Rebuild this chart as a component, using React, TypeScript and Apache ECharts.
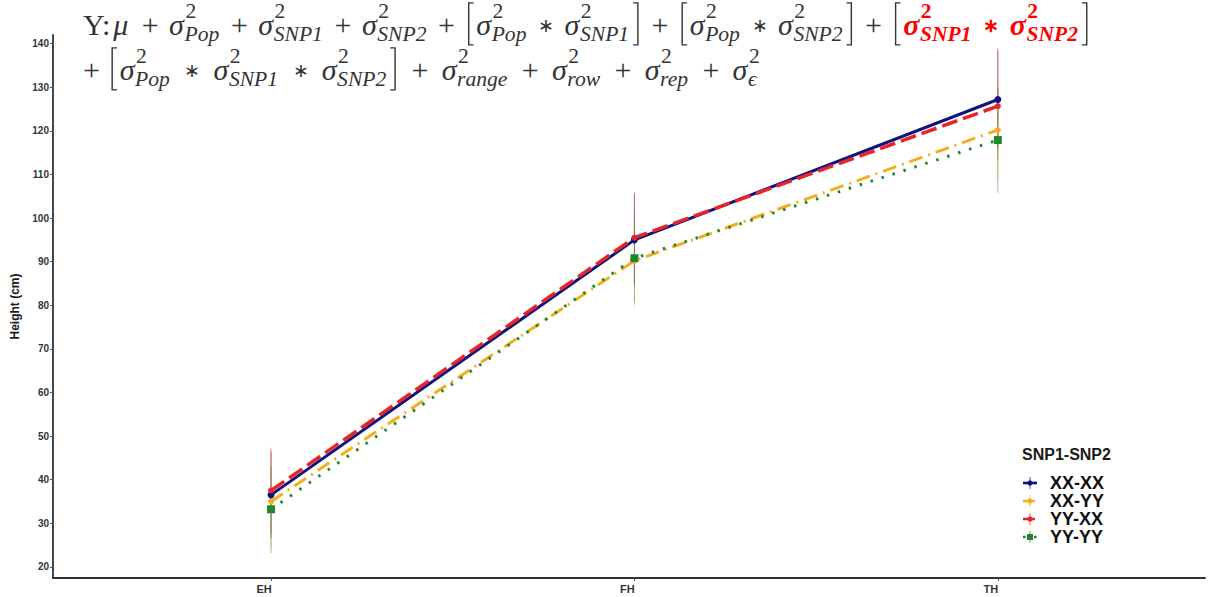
import React, { useEffect, useRef } from "react";
import * as echarts from "echarts";

const categories = ["EH", "FH", "TH"];
const yTicks = [20, 30, 40, 50, 60, 70, 80, 90, 100, 110, 120, 130, 140];
const seriesNames = ["XX-XX", "XX-YY", "YY-XX", "YY-YY"];
const seriesColors = ["#10137F", "#F4AE1F", "#E8242B", "#23862E"];

const meanXXXX = [36.5, 95.0, 127.2];
const meanXXYY = [35.0, 90.2, 120.2];
const meanYYXX = [37.5, 95.5, 125.7];
const meanYYYY = [33.2, 90.8, 117.9];

const lowXXXX = [26.5, 84.5, 116.0];
const highXXXX = [46.5, 105.5, 138.5];
const lowXXYY = [24.0, 79.8, 109.0];
const highXXYY = [46.0, 100.6, 131.5];
const lowYYXX = [27.5, 85.1, 113.5];
const highYYXX = [47.3, 105.9, 139.0];
const lowYYYY = [23.2, 80.5, 105.8];
const highYYYY = [43.0, 101.0, 130.0];

const means = [meanXXXX, meanXXYY, meanYYXX, meanYYYY];
const lows = [lowXXXX, lowXXYY, lowYYXX, lowYYYY];
const highs = [highXXXX, highXXYY, highYYXX, highYYYY];

type Tok =
  | { k: "t"; s: string; it?: boolean; pad?: number }
  | { k: "op"; s: string; red?: boolean }
  | { k: "sig"; sub: string; red?: boolean }
  | { k: "lb" }
  | { k: "rb" };

const SERIF = "Liberation Serif";
const INK = "#333333";
const RED = "#FF0000";

let measureCtx: CanvasRenderingContext2D | null = null;
function tw(text: string, size: number, italic: boolean, bold: boolean): number {
  if (!measureCtx) measureCtx = document.createElement("canvas").getContext("2d");
  if (!measureCtx) return text.length * size * 0.5;
  measureCtx.font = `${italic ? "italic " : ""}${bold ? "bold " : ""}${size}px "${SERIF}"`;
  return measureCtx.measureText(text).width;
}

function textEl(text: string, x: number, baseline: number, size: number, italic: boolean, bold: boolean, fill: string) {
  return {
    type: "text",
    x,
    y: baseline - 0.34 * size,
    silent: true,
    style: {
      text,
      fontFamily: SERIF,
      fontSize: size,
      fontStyle: italic ? "italic" : "normal",
      fontWeight: bold ? "bold" : "normal",
      fill,
      align: "left",
      verticalAlign: "middle",
    },
  };
}

function opSize(s: string, fs: number) {
  return s === "∗" ? fs * 0.62 : fs;
}

function layoutFormula(tokens: Tok[], x0: number, x1: number, base: number, fs: number) {
  const supFs = fs * 0.72;
  const g0 = fs * 0.18;
  const widthOf = (t: Tok): number => {
    if (t.k === "t") return tw(t.s, fs, !!t.it, false) + fs * (t.pad ?? 0.1);
    if (t.k === "op") return tw(t.s, opSize(t.s, fs), false, !!t.red) + 2 * g0;
    if (t.k === "sig") {
      const sw = tw("σ", fs, true, !!t.red);
      const a = tw("2", supFs, false, !!t.red);
      const b = tw(t.sub, supFs, true, !!t.red);
      return sw + fs * 0.03 + Math.max(a, b) + fs * 0.03;
    }
    return fs * 0.36;
  };
  let total = 0;
  let nOps = 0;
  tokens.forEach((t) => {
    total += widthOf(t);
    if (t.k === "op") nOps++;
  });
  const extra = nOps > 0 ? (x1 - x0 - total) / nOps : 0;
  const els: any[] = [];
  let x = x0;
  tokens.forEach((t) => {
    if (t.k === "t") {
      els.push(textEl(t.s, x, base, fs, !!t.it, false, INK));
      x += widthOf(t);
    } else if (t.k === "op") {
      const gap = Math.max(2, g0 + extra / 2);
      const s = opSize(t.s, fs);
      x += gap;
      const b = t.s === "∗" ? base - 0.3 * fs + 0.3 * s : base;
      els.push(textEl(t.s, x, b, s, false, !!t.red, t.red ? RED : INK));
      x += tw(t.s, s, false, !!t.red) + gap;
    } else if (t.k === "sig") {
      const bold = !!t.red;
      const col = t.red ? RED : INK;
      const sw = tw("σ", fs, true, bold);
      els.push(textEl("σ", x, base, fs, true, bold, col));
      els.push(textEl("2", x + sw + fs * 0.05, base - 0.56 * fs, supFs, false, bold, col));
      els.push(textEl(t.sub, x + sw + fs * 0.02, base + 0.21 * fs, supFs, true, bold, col));
      x += widthOf(t);
    } else {
      const w = fs * 0.36;
      const top = base - 1.07 * fs;
      const bot = base + 0.33 * fs;
      const pts =
        t.k === "lb"
          ? [
              [x + w * 0.75, top],
              [x + w * 0.3, top],
              [x + w * 0.3, bot],
              [x + w * 0.75, bot],
            ]
          : [
              [x + w * 0.25, top],
              [x + w * 0.7, top],
              [x + w * 0.7, bot],
              [x + w * 0.25, bot],
            ];
      els.push({
        type: "polyline",
        silent: true,
        shape: { points: pts },
        style: { stroke: INK, lineWidth: 1.4, fill: "none" },
      });
      x += w;
    }
  });
  return els;
}

const line1: Tok[] = [
  { k: "t", s: "Y:" },
  { k: "t", s: "μ", it: true },
  { k: "op", s: "+" },
  { k: "sig", sub: "Pop" },
  { k: "op", s: "+" },
  { k: "sig", sub: "SNP1" },
  { k: "op", s: "+" },
  { k: "sig", sub: "SNP2" },
  { k: "op", s: "+" },
  { k: "lb" },
  { k: "sig", sub: "Pop" },
  { k: "op", s: "∗" },
  { k: "sig", sub: "SNP1" },
  { k: "rb" },
  { k: "op", s: "+" },
  { k: "lb" },
  { k: "sig", sub: "Pop" },
  { k: "op", s: "∗" },
  { k: "sig", sub: "SNP2" },
  { k: "rb" },
  { k: "op", s: "+" },
  { k: "lb" },
  { k: "sig", sub: "SNP1", red: true },
  { k: "op", s: "∗", red: true },
  { k: "sig", sub: "SNP2", red: true },
  { k: "rb" },
];

const line2: Tok[] = [
  { k: "t", s: "+", pad: 0.3 },
  { k: "lb" },
  { k: "sig", sub: "Pop" },
  { k: "op", s: "∗" },
  { k: "sig", sub: "SNP1" },
  { k: "op", s: "∗" },
  { k: "sig", sub: "SNP2" },
  { k: "rb" },
  { k: "op", s: "+" },
  { k: "sig", sub: "range" },
  { k: "op", s: "+" },
  { k: "sig", sub: "row" },
  { k: "op", s: "+" },
  { k: "sig", sub: "rep" },
  { k: "op", s: "+" },
  { k: "sig", sub: "ϵ" },
];

const dashTypes: any[] = ["solid", [14, 6, 2, 6], [16, 6], [2.5, 9]];
const widths = [3, 3, 3.5, 3];
const symbols = ["circle", "circle", "circle", "rect"];
const symbolSizes = [7, 6, 6, 8];

function legendGraphics() {
  const els: any[] = [];
  els.push({
    type: "text",
    x: 1022,
    y: 454,
    silent: true,
    style: {
      text: "SNP1-SNP2",
      fontFamily: "Liberation Sans",
      fontWeight: "bold",
      fontSize: 16,
      fill: "#1a1a1a",
      align: "left",
      verticalAlign: "middle",
    },
  });
  const rows = [483, 501, 519, 537];
  seriesNames.forEach((name, i) => {
    const y = rows[i];
    const c = seriesColors[i];
    els.push({
      type: "line",
      silent: true,
      shape: { x1: 1030, y1: y - 6, x2: 1030, y2: y + 6 },
      style: { stroke: c, lineWidth: 1.2, opacity: 0.6 },
    });
    els.push({
      type: "line",
      silent: true,
      shape: { x1: 1023, y1: y, x2: 1037, y2: y },
      style: { stroke: c, lineWidth: 2.6, lineDash: i === 0 ? null : i === 3 ? [2.5, 3] : [5, 2] },
    });
    if (i === 3) {
      els.push({ type: "rect", silent: true, shape: { x: 1027, y: y - 3, width: 6, height: 6 }, style: { fill: c } });
    } else {
      els.push({ type: "circle", silent: true, shape: { cx: 1030, cy: y, r: 2.6 }, style: { fill: c } });
    }
    els.push({
      type: "text",
      x: 1050,
      y,
      silent: true,
      style: {
        text: name,
        fontFamily: "Liberation Sans",
        fontWeight: "bold",
        fontSize: 18,
        fill: "#111111",
        align: "left",
        verticalAlign: "middle",
      },
    });
  });
  return els;
}

export default function App() {
  const ref = useRef<HTMLDivElement>(null);
  useEffect(() => {
    if (!ref.current) return;
    const chart = echarts.init(ref.current, null, { renderer: "svg" });
    const fs = 30;
    const formula = [
      ...layoutFormula(line1, 83, 1090, 35, fs),
      ...layoutFormula(line2, 83, 760, 80, fs),
    ];

    const errSeries = seriesNames.map((name, i) => ({
      type: "custom",
      name: name + "-err",
      z: 1,
      data: categories.map((_, j) => [j, lows[i][j], highs[i][j]]),
      renderItem: (params: any, api: any) => {
        const x = api.value(0);
        const lo = api.coord([x, api.value(1)]);
        const hi = api.coord([x, api.value(2)]);
        return {
          type: "line",
          shape: { x1: lo[0], y1: lo[1], x2: hi[0], y2: hi[1] },
          style: { stroke: seriesColors[i], lineWidth: 1, opacity: 0.45 },
        };
      },
    }));

    const lineSeries = seriesNames.map((name, i) => ({
      type: "line",
      name,
      z: 3,
      data: categories.map((_, j) => [j, means[i][j]]),
      symbol: symbols[i],
      symbolSize: symbolSizes[i],
      showSymbol: true,
      itemStyle: { color: seriesColors[i] },
      lineStyle: { color: seriesColors[i], width: widths[i], type: dashTypes[i] },
    }));

    chart.setOption({
      animation: false,
      backgroundColor: "#ffffff",
      grid: { left: 53, right: 7, top: 35, bottom: 19 },
      xAxis: {
        type: "value",
        min: -0.6,
        max: 2.57,
        splitLine: { show: false },
        axisLine: { show: true, onZero: false, lineStyle: { color: "#333333", width: 1.8 } },
        axisTick: { show: true, customValues: [0, 1, 2], length: 3, lineStyle: { color: "#555555" } },
        axisLabel: {
          customValues: [0, 1, 2],
          formatter: (v: number) => categories[Math.round(v)] ?? "",
          fontFamily: "Liberation Sans",
          fontWeight: "bold",
          fontSize: 11,
          color: "#333333",
          margin: 5,
          padding: [0, 14, 0, 0],
        },
      },
      yAxis: {
        type: "value",
        min: 17.43,
        max: 142,
        name: "Height (cm)",
        nameLocation: "middle",
        nameGap: 31,
        nameTextStyle: { fontFamily: "Liberation Sans", fontWeight: "bold", fontSize: 12, color: "#1a1a1a" },
        splitLine: { show: false },
        axisLine: { show: true, onZero: false, lineStyle: { color: "#333333", width: 1.8 } },
        axisTick: { show: true, customValues: yTicks, length: 3, lineStyle: { color: "#555555" } },
        axisLabel: {
          customValues: yTicks,
          fontFamily: "Liberation Sans",
          fontWeight: "bold",
          fontSize: 10,
          color: "#333333",
          margin: 4,
        },
      },
      series: [...errSeries, ...lineSeries],
      graphic: [...formula, ...legendGraphics()],
    });
    return () => chart.dispose();
  }, []);
  return (
    <div
      ref={ref}
      style={{ position: "fixed", left: 0, top: 0, width: 1212, height: 597, background: "#fff" }}
    />
  );
}
